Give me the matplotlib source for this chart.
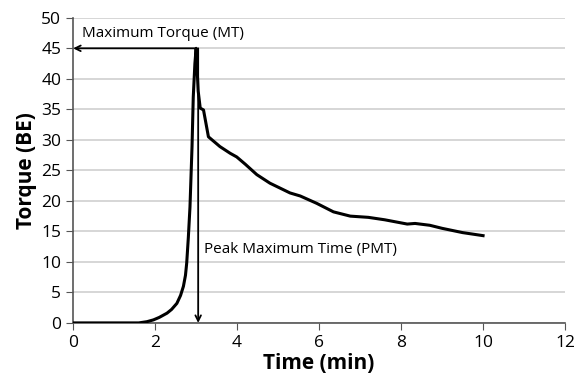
import matplotlib.pyplot as plt
import numpy as np

plt.rcParams['font.family'] = ['Open Sans', 'DejaVu Sans']

# torque curve
time_min = [0, 1.0, 1.6, 1.8, 1.96, 2.1, 2.29, 2.4, 2.53, 2.62, 2.69, 2.74, 2.77, 2.81, 2.85, 2.9, 2.93, 2.97, 3.0,
            3.05, 3.1, 3.18, 3.3, 3.58, 3.83, 3.99, 4.2, 4.48, 4.8, 5.29, 5.54, 5.94, 6.35,
            6.76, 7.2, 7.6, 8.15, 8.34, 8.7, 9.0, 9.5, 10.0]
torque = [0, 0, 0, 0.2, 0.5, 0.9, 1.6, 2.2, 3.2, 4.5, 6.0, 7.8, 9.8, 14.0, 19.0, 28.9, 37.0, 42.5, 45.0,
          38.0, 35.2, 34.9, 30.5, 28.9, 27.8, 27.2, 26.0, 24.3, 22.9, 21.3, 20.8, 19.6, 18.2,
          17.5, 17.3, 16.9, 16.2, 16.3, 16.0, 15.5, 14.8, 14.3]

mt = 45.0
pmt = 3.05

fig = plt.figure(figsize=(5.76, 3.79), dpi=100)
ax = fig.add_axes([0.127, 0.148, 0.854, 0.805])

ax.plot(time_min, torque, color='black', lw=2.2, solid_joinstyle='round', zorder=3)

# MT arrow
ax.annotate('', xy=(0, mt), xytext=(3.0, mt),
            arrowprops=dict(arrowstyle='->', color='black', lw=1.3, shrinkA=0, shrinkB=0), zorder=4)
ax.text(0.22, 47.4, 'Maximum Torque (MT)', fontsize=11, va='center', ha='left')
# PMT arrow
ax.annotate('', xy=(pmt, 0), xytext=(pmt, mt),
            arrowprops=dict(arrowstyle='->', color='black', lw=1.3, shrinkA=0, shrinkB=0), zorder=4)
ax.text(3.2, 12.1, 'Peak Maximum Time (PMT)', fontsize=11, va='center', ha='left')

ax.set_xlim(0, 12)
ax.set_ylim(0, 50)
ax.set_xticks(np.arange(0, 13, 2))
ax.set_yticks(np.arange(0, 51, 5))
ax.yaxis.grid(True, color='#d0d0d0', lw=1.2)
ax.set_axisbelow(True)
for s in ['top', 'right']:
    ax.spines[s].set_visible(False)
for s in ['left', 'bottom']:
    ax.spines[s].set_color('#555555')
    ax.spines[s].set_linewidth(1.2)
ax.tick_params(axis='both', direction='out', length=5, color='#555555', labelsize=12.5)
ax.set_xlabel('Time (min)', fontsize=15, fontweight='bold', labelpad=2)
ax.set_ylabel('Torque (BE)', fontsize=15, fontweight='bold', labelpad=3)

fig.savefig('out.png', dpi=100)
